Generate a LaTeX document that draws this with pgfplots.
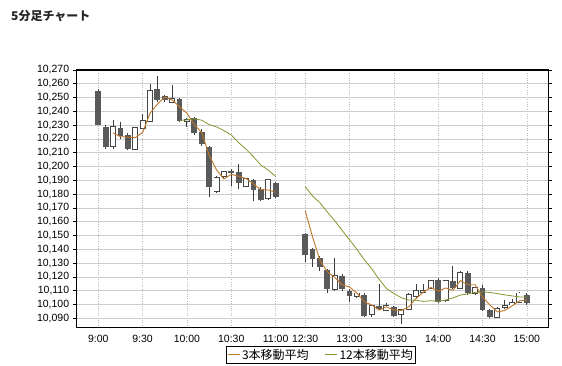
\documentclass[border=0pt]{standalone}
\usepackage{fontspec}
\setmainfont{Liberation Sans}
\newfontfamily\cjk{Noto Sans CJK JP}
\usepackage{pgfplots}
\usepackage{pgfplotstable}
\pgfplotsset{compat=1.18}
\definecolor{wick}{RGB}{60,60,60}
\definecolor{downc}{RGB}{90,90,90}
\definecolor{upedge}{RGB}{70,70,70}
\definecolor{maA}{RGB}{190,118,40}
\definecolor{maB}{RGB}{135,148,45}
\definecolor{gridc}{RGB}{205,205,205}

% white (rising) candles: x open high low close
\pgfplotstableread{
x o h l c
2 10215 10234 10213 10229
5 10213 10229 10212 10228
6 10228 10238 10227 10233
7 10233 10260 10232 10255
10 10247 10259 10246 10249
12 10233 10235 10229 10234
16 10182 10193 10181 10192
17 10193 10197 10192 10196
20 10186 10192 10185 10191
23 10177 10191 10176 10190
32 10111 10134 10110 10121
35 10106 10109 10105 10108
37 10093 10100 10091 10099
39 10096 10101 10095 10099
41 10093 10097 10086 10096
42 10097 10108 10096 10107
43 10106 10115 10105 10110
44 10109 10115 10108 10110
45 10112 10118 10111 10117
47 10103 10118 10102 10117
49 10112 10124 10111 10123
51 10108 10113 10107 10112
54 10091 10098 10090 10097
55 10098 10103 10097 10099
56 10100 10104 10099 10101
57 10102 10109 10101 10108
}\upc

% dark (falling) candles: x open high low close
\pgfplotstableread{
x o h l c
0 10255 10256 10230 10230
1 10229 10230 10213 10214
3 10228 10232 10220 10222
4 10223 10224 10212 10213
8 10256 10266 10247 10248
9 10251 10252 10247 10248
11 10249 10250 10232 10233
13 10235 10236 10223 10224
14 10225 10227 10215 10216
15 10214 10215 10178 10185
18 10197 10198 10186 10195
19 10196 10202 10184 10188
21 10190 10191 10175 10183
22 10184 10185 10175 10176
24 10188 10189 10177 10178
28 10151 10152 10131 10136
29 10140 10141 10127 10133
30 10134 10135 10124 10127
31 10125 10126 10108 10111
33 10121 10122 10110 10111
34 10110 10111 10102 10106
36 10107 10108 10091 10092
38 10099 10115 10096 10097
40 10098 10099 10091 10092
46 10118 10119 10101 10102
48 10117 10128 10111 10112
50 10123 10124 10107 10108
52 10112 10114 10095 10096
53 10096 10097 10090 10091
58 10107 10108 10100 10101
}\downc

% 3-bar moving average
\pgfplotstableread{
x y
2 10224.33
3 10221.67
4 10221.33
5 10221.00
6 10224.67
7 10238.67
8 10245.33
9 10250.33
10 10248.33
11 10243.33
12 10238.67
13 10230.33
14 10224.67
15 10208.33
16 10197.67
17 10191.00
18 10194.33
19 10193.00
20 10191.33
21 10187.33
22 10183.33
23 10183.00
24 10181.33
26 nan
28 10168.00
29 10149.00
30 10132.00
31 10123.67
32 10119.67
33 10114.33
34 10112.67
35 10108.33
36 10102.00
37 10099.67
38 10096.00
39 10098.33
40 10096.00
41 10095.67
42 10098.33
43 10104.33
44 10109.00
45 10112.33
46 10109.67
47 10112.00
48 10110.33
49 10117.33
50 10114.33
51 10114.33
52 10105.33
53 10099.67
54 10094.67
55 10095.67
56 10099.00
57 10102.67
58 10103.33
}\maA

% 12-bar moving average
\pgfplotstableread{
x y
11 10233.50
12 10233.83
13 10234.67
14 10233.58
15 10230.50
16 10228.75
17 10226.08
18 10222.92
19 10217.33
20 10212.58
21 10207.17
22 10201.08
23 10197.50
24 10192.83
26 nan
28 10185.50
29 10178.58
30 10173.75
31 10167.00
32 10160.75
33 10153.75
34 10146.92
35 10140.00
36 10132.42
37 10126.00
38 10118.25
39 10111.67
40 10108.00
41 10104.92
42 10103.25
43 10103.17
44 10102.25
45 10102.75
46 10102.42
47 10103.17
48 10104.83
49 10106.83
50 10107.75
51 10108.83
52 10109.17
53 10108.75
54 10107.92
55 10107.00
56 10106.25
57 10105.50
58 10105.42
}\maB

\begin{document}
\begin{tikzpicture}
\useasboundingbox (0,0) rectangle (562pt,366pt);
\node[anchor=west, inner sep=0pt, text=black!85, font=\cjk\bfseries\fontsize{12}{14}\selectfont] at (11pt,350pt) {5分足チャート};
\begin{axis}[
  at={(76.7pt,38.3pt)}, anchor=south west,
  scale only axis, width=471.6pt, height=257.7pt,
  xmin=-2.92, xmax=60.9, ymin=10083.2, ymax=10270,
  xtick={0,6,12,18,24,28,34,40,46,52,58},
  xticklabels={9:00,9:30,10:00,10:30,11:00,12:30,13:00,13:30,14:00,14:30,15:00},
  ytick={10090,10100,...,10270},
  scaled y ticks=false,
  /pgf/number format/assume math mode=true,
  yticklabel style={/pgf/number format/.cd, fixed, 1000 sep={,}},
  tick label style={font=\fontsize{10.5}{12}\selectfont, text=black},
  ymajorgrids, xmajorgrids,
  x grid style={dotted, gray!55, line width=0.6pt},
  y grid style={gridc, line width=0.8pt},
  axis line style={line width=1.5pt, black},
  tick align=outside, major tick length=4pt,
  xtick style={draw=none},
  ytick style={line width=0.8pt, black},
  legend columns=2,
  legend style={at={(0.518,-0.070)}, anchor=north, draw=black, line width=0.8pt,
    font=\cjk\fontsize{12}{14}\selectfont, inner sep=1pt,
    /tikz/every even column/.append style={column sep=14pt}},
  legend image code/.code={\draw[#1, line width=0.9pt] (0pt,0pt) -- (12pt,0pt);},
]
% wicks
\addplot[forget plot, draw=none, mark=none, error bars/.cd, y dir=plus, y explicit,
  error mark=none, error bar style={draw=wick, line width=1pt}]
  table[x=x, y=l, y error expr=\thisrow{h}-\thisrow{l}] {\downc};
\addplot[forget plot, draw=none, mark=none, error bars/.cd, y dir=plus, y explicit,
  error mark=none, error bar style={draw=wick, line width=1pt}]
  table[x=x, y=l, y error expr=\thisrow{h}-\thisrow{l}] {\upc};
% dark bodies
\addplot[forget plot, draw=none, mark=none, error bars/.cd, y dir=plus, y explicit,
  error mark=none, error bar style={draw=downc, line width=5.8pt}]
  table[x=x, y=c, y error expr=\thisrow{o}-\thisrow{c}] {\downc};
% white bodies: dark outline (slightly taller) then white interior
\addplot[forget plot, draw=none, mark=none, error bars/.cd, y dir=plus, y explicit,
  error mark=none, error bar style={draw=upedge, line width=6pt}]
  table[x=x, y expr=\thisrow{o}-0.65, y error expr=\thisrow{c}-\thisrow{o}+1.3] {\upc};
\addplot[forget plot, draw=none, mark=none, error bars/.cd, y dir=plus, y explicit,
  error mark=none, error bar style={draw=white, line width=4.2pt}]
  table[x=x, y=o, y error expr=\thisrow{c}-\thisrow{o}] {\upc};
% moving averages
\addplot[maA, line width=0.9pt, mark=none, unbounded coords=jump] table[x=x, y=y] {\maA};
\addlegendentry{3本移動平均}
\addplot[maB, line width=0.8pt, mark=none, unbounded coords=jump] table[x=x, y=y] {\maB};
\addlegendentry{12本移動平均}
\end{axis}
\end{tikzpicture}
\end{document}
